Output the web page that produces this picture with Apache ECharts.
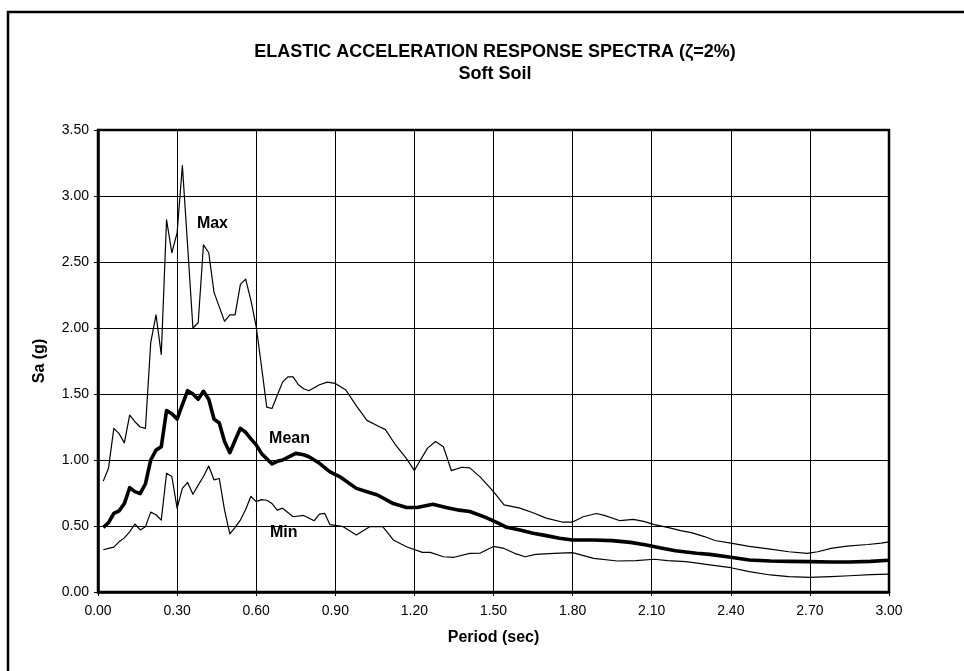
<!DOCTYPE html>
<html>
<head>
<meta charset="utf-8">
<script src="https://cdn.jsdelivr.net/npm/echarts@6/dist/echarts.min.js"></script>
<style>
  html, body { margin: 0; padding: 0; background: #fff; }
  #chart { width: 964px; height: 671px; }
</style>
</head>
<body>
<div id="chart"></div>
<script>
// Elastic acceleration response spectra, soft soil, 2% damping
const titleText = 'ELASTIC ACCELERATION RESPONSE SPECTRA (\u03B6=2%)';
const subtitleText = 'Soft Soil';
const xAxisName = 'Period (sec)';
const yAxisName = 'Sa (g)';

// Maximum spectrum
const maxPeriod = [0.02,0.04,0.06,0.08,0.10,0.12,0.14,0.16,0.18,0.20,0.22,0.24,0.26,0.28,0.30,0.32,0.34,0.36,0.38,0.40,
  0.42,0.44,0.46,0.48,0.50,0.52,0.54,0.56,0.58,0.60,0.62,0.64,0.66,0.68,0.70,0.72,0.74,0.76,0.78,0.80,
  0.84,0.87,0.90,0.94,0.98,1.02,1.06,1.09,1.13,1.17,1.20,1.22,1.25,1.28,1.31,1.34,1.38,1.41,1.45,1.50,
  1.54,1.60,1.65,1.70,1.76,1.80,1.84,1.89,1.92,1.98,2.03,2.07,2.11,2.16,2.21,2.25,2.30,2.34,2.40,2.47,
  2.55,2.62,2.69,2.73,2.78,2.84,2.92,2.97,3.00];
const maxSa = [0.84,0.94,1.24,1.20,1.13,1.34,1.29,1.25,1.24,1.89,2.10,1.80,2.82,2.57,2.72,3.23,2.62,2.00,2.04,2.63,
  2.57,2.27,2.16,2.05,2.10,2.10,2.33,2.37,2.21,2.01,1.71,1.40,1.39,1.49,1.59,1.63,1.63,1.57,1.54,1.525,
  1.57,1.59,1.58,1.53,1.41,1.30,1.26,1.23,1.11,1.01,0.92,0.99,1.09,1.14,1.10,0.92,0.945,0.94,0.87,0.76,
  0.66,0.635,0.60,0.56,0.53,0.53,0.57,0.595,0.58,0.54,0.55,0.535,0.51,0.49,0.465,0.45,0.42,0.39,0.37,0.345,
  0.325,0.305,0.293,0.305,0.33,0.348,0.36,0.37,0.38];

// Mean spectrum
const meanPeriod = [0.02,0.04,0.06,0.08,0.10,0.12,0.14,0.16,0.18,0.20,0.22,0.24,0.26,0.28,0.30,0.32,0.34,0.36,0.38,0.40,
  0.42,0.44,0.46,0.48,0.50,0.52,0.54,0.56,0.58,0.60,0.62,0.64,0.66,0.68,0.70,0.72,0.75,0.78,0.80,0.84,
  0.88,0.92,0.98,1.02,1.06,1.12,1.17,1.21,1.27,1.32,1.37,1.41,1.47,1.52,1.55,1.60,1.65,1.70,1.75,1.80,
  1.88,1.95,2.02,2.08,2.13,2.19,2.27,2.32,2.40,2.47,2.55,2.62,2.70,2.78,2.85,2.93,3.00];
const meanSa = [0.49,0.525,0.595,0.615,0.67,0.79,0.76,0.745,0.82,1.00,1.075,1.10,1.375,1.35,1.31,1.42,1.525,1.50,1.46,1.52,
  1.46,1.31,1.28,1.14,1.055,1.15,1.24,1.21,1.16,1.115,1.05,1.01,0.97,0.99,1.00,1.02,1.05,1.04,1.025,0.975,
  0.91,0.87,0.785,0.76,0.735,0.67,0.64,0.64,0.665,0.64,0.62,0.61,0.565,0.52,0.49,0.47,0.445,0.427,0.407,0.394,
  0.394,0.389,0.376,0.356,0.336,0.313,0.293,0.285,0.263,0.242,0.235,0.232,0.23,0.227,0.227,0.232,0.24];

// Minimum spectrum
const minPeriod = [0.02,0.04,0.06,0.08,0.10,0.12,0.14,0.16,0.18,0.20,0.22,0.24,0.26,0.28,0.30,0.32,0.34,0.36,0.38,0.40,
  0.42,0.44,0.46,0.48,0.50,0.52,0.54,0.56,0.58,0.60,0.62,0.64,0.66,0.68,0.70,0.74,0.78,0.82,0.84,0.86,
  0.88,0.93,0.98,1.03,1.08,1.12,1.17,1.23,1.26,1.31,1.35,1.41,1.45,1.50,1.54,1.58,1.62,1.66,1.73,1.80,
  1.88,1.97,2.04,2.11,2.16,2.23,2.28,2.32,2.40,2.47,2.55,2.62,2.70,2.78,2.85,2.93,3.00];
const minSa = [0.32,0.33,0.34,0.38,0.41,0.455,0.515,0.47,0.495,0.605,0.585,0.545,0.90,0.875,0.635,0.785,0.83,0.74,0.81,0.875,
  0.955,0.85,0.86,0.62,0.44,0.49,0.545,0.625,0.725,0.685,0.70,0.695,0.67,0.62,0.635,0.57,0.58,0.54,0.59,0.595,
  0.51,0.495,0.432,0.495,0.495,0.394,0.343,0.30,0.30,0.267,0.263,0.293,0.295,0.345,0.33,0.293,0.267,0.285,0.293,0.298,
  0.255,0.235,0.237,0.248,0.237,0.23,0.217,0.205,0.184,0.154,0.129,0.116,0.111,0.116,0.123,0.131,0.136];

const seriesNames = ['Max', 'Mean', 'Min'];

const FONT = 'Arial, "Liberation Sans", Helvetica, sans-serif';

function pairs(xs, ys) {
  return xs.map(function (x, i) { return [x, ys[i]]; });
}

const chart = echarts.init(document.getElementById('chart'), null, { renderer: 'canvas' });

function lineSeries(name, xs, ys, width) {
  return {
    name: name,
    type: 'line',
    data: pairs(xs, ys),
    symbol: 'none',
    smooth: false,
    animation: false,
    lineStyle: { color: '#000', width: width, join: 'round' },
    z: 5
  };
}

chart.setOption({
  backgroundColor: '#fff',
  animation: false,
  title: {
    text: titleText,
    subtext: subtitleText,
    left: 490,
    top: 38,
    textAlign: 'center',
    itemGap: 4,
    textStyle: { fontFamily: FONT, fontSize: 18, fontWeight: 'bold', color: '#000' },
    subtextStyle: { fontFamily: FONT, fontSize: 18, fontWeight: 'bold', color: '#000' }
  },
  grid: {
    left: 98, right: 75, top: 130, bottom: 79,
    show: true, borderColor: '#000', borderWidth: 2.5, backgroundColor: '#fff'
  },
  xAxis: {
    type: 'value',
    min: 0, max: 3, interval: 0.3,
    name: xAxisName,
    nameLocation: 'middle',
    nameGap: 38,
    nameTextStyle: { fontFamily: FONT, fontSize: 16, fontWeight: 'bold', color: '#000' },
    axisLine: { show: true, lineStyle: { color: '#000', width: 2.5 } },
    axisTick: { show: true, length: 4, lineStyle: { color: '#000', width: 1 } },
    axisLabel: {
      fontFamily: FONT, fontSize: 14, color: '#000', margin: 12,
      formatter: function (v) { return v.toFixed(2); }
    },
    splitLine: { show: true, lineStyle: { color: '#000', width: 1 } }
  },
  yAxis: {
    type: 'value',
    min: 0, max: 3.5, interval: 0.5,
    name: yAxisName,
    nameLocation: 'middle',
    nameGap: 50,
    nameTextStyle: { fontFamily: FONT, fontSize: 16, fontWeight: 'bold', color: '#000' },
    axisLine: { show: true, lineStyle: { color: '#000', width: 2.5 } },
    axisTick: { show: true, length: 4, lineStyle: { color: '#000', width: 1 } },
    axisLabel: {
      fontFamily: FONT, fontSize: 14, color: '#000', margin: 9,
      formatter: function (v) { return v.toFixed(2); }
    },
    splitLine: { show: true, lineStyle: { color: '#000', width: 1 } }
  },
  series: [
    lineSeries(seriesNames[0], maxPeriod, maxSa, 1.2),
    lineSeries(seriesNames[1], meanPeriod, meanSa, 3.6),
    lineSeries(seriesNames[2], minPeriod, minSa, 1.2)
  ]
});

// Curve captions, anchored in data space (period, Sa) at their left-middle point
const captionAnchors = [[0.375, 2.79], [0.649, 1.16], [0.652, 0.447]];
const graphics = [{
  type: 'rect',
  shape: { x: 8, y: 12, width: 970, height: 700 },
  style: { fill: 'none', stroke: '#000', lineWidth: 2.5 },
  silent: true,
  z: 100
}];
captionAnchors.forEach(function (a, i) {
  const p = chart.convertToPixel({ gridIndex: 0 }, a);
  graphics.push({
    type: 'text',
    x: p[0], y: p[1],
    style: {
      text: seriesNames[i],
      fill: '#000',
      font: 'bold 16px ' + FONT,
      textAlign: 'left',
      textVerticalAlign: 'middle'
    },
    z: 100
  });
});
chart.setOption({ graphic: graphics });
</script>
</body>
</html>
